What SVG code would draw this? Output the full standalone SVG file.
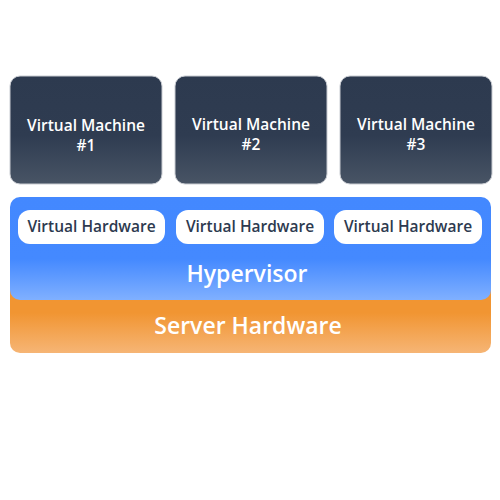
<svg xmlns="http://www.w3.org/2000/svg" width="500" height="500" viewBox="0 0 500 500">
<defs>
<linearGradient id="gVm" x1="0" y1="0" x2="0" y2="1">
<stop offset="0" stop-color="#2d3a4f"/>
<stop offset="0.55" stop-color="#2f3c51"/>
<stop offset="1" stop-color="#485465"/>
</linearGradient>
<linearGradient id="gHyp" x1="0" y1="0" x2="0" y2="1">
<stop offset="0" stop-color="#4388ff"/>
<stop offset="0.6" stop-color="#4489ff"/>
<stop offset="1" stop-color="#80b0ff"/>
</linearGradient>
<linearGradient id="gSrv" x1="0" y1="0" x2="0" y2="1">
<stop offset="0" stop-color="#f19532"/>
<stop offset="0.45" stop-color="#f19532"/>
<stop offset="1" stop-color="#f6b575"/>
</linearGradient>
<style>
text{font-family:"Open Sans","Noto Sans",sans-serif;text-anchor:middle}
.vm{fill:url(#gVm);stroke:#c9ccd2;stroke-width:1}
.vmt{fill:#ffffff;font-size:15.5px;font-weight:600}
.pill{fill:#ffffff}
.pillt{fill:#2d3a4f;font-size:15.5px;font-weight:600}
.big{fill:#ffffff;font-size:23px;font-weight:600}
</style>
</defs>
<g id="server-hardware">
<rect x="10" y="280" width="481" height="73" rx="10" fill="url(#gSrv)"/>
<text class="big" x="248" y="334">Server Hardware</text>
</g>
<g id="hypervisor">
<rect x="10" y="197" width="481" height="103" rx="10" fill="url(#gHyp)"/>
<text class="big" x="247" y="282">Hypervisor</text>
</g>
<g id="vh1">
<rect class="pill" x="18" y="210" width="147" height="34" rx="12"/>
<text class="pillt" x="91.5" y="232">Virtual Hardware</text>
</g>
<g id="vh2">
<rect class="pill" x="176" y="210" width="148" height="34" rx="12"/>
<text class="pillt" x="250" y="232">Virtual Hardware</text>
</g>
<g id="vh3">
<rect class="pill" x="334" y="210" width="148" height="34" rx="12"/>
<text class="pillt" x="408" y="232">Virtual Hardware</text>
</g>
<g id="vm1">
<rect class="vm" x="10" y="76" width="152" height="108" rx="10"/>
<text class="vmt" x="86" y="131">Virtual Machine</text>
<text class="vmt" x="86" y="151">#1</text>
</g>
<g id="vm2">
<rect class="vm" x="175" y="76" width="152" height="108" rx="10"/>
<text class="vmt" x="251" y="130">Virtual Machine</text>
<text class="vmt" x="251" y="150">#2</text>
</g>
<g id="vm3">
<rect class="vm" x="340" y="76" width="152" height="108" rx="10"/>
<text class="vmt" x="416" y="130">Virtual Machine</text>
<text class="vmt" x="416" y="150">#3</text>
</g>
<g id="connectors"/>
</svg>
